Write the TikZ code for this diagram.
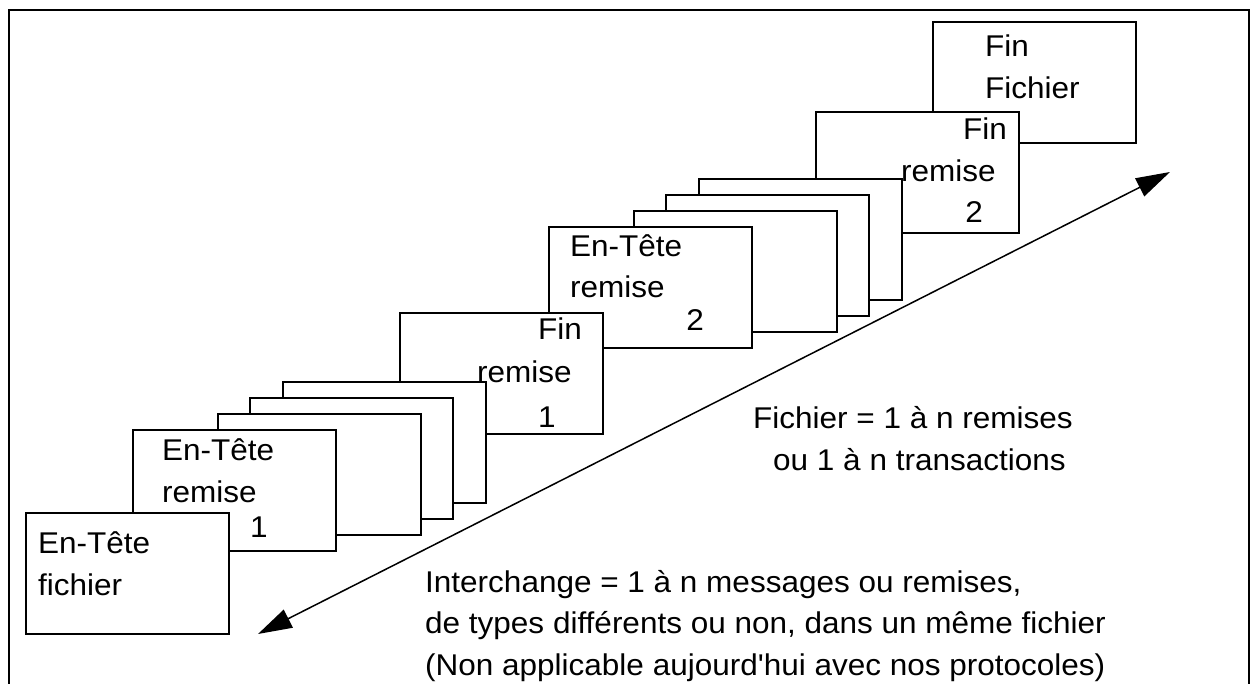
\documentclass[tikz,border=0pt]{standalone}
\usepackage{fontspec}
\setmainfont{Liberation Sans}[Ligatures=TeXOff, FakeStretch=1.05]
\usetikzlibrary{arrows.meta}

\tikzset{
	sheet/.style={draw=black, fill=white, line width=2pt, minimum width=203pt, minimum height=121pt, inner sep=0pt, anchor=north west},
	txt/.style={font=\fontsize{30}{40}\selectfont, inner sep=0pt},
}

\begin{document}
\begin{tikzpicture}[x=1pt, y=-1pt]
		\useasboundingbox (0,0) rectangle (1255,684);

		\draw[black, line width=1.5pt] (9,684) -- (9,10) -- (1249,10) -- (1249,684);

		% sheets, back to front
		\node[sheet] (finfichier) at (932,21) {};
		\node[sheet] (finremb) at (815,111) {};
		\node[sheet] (blankf) at (698,178) {};
		\node[sheet] (blanke) at (665,194) {};
		\node[sheet] (blankd) at (633,210) {};
		\node[sheet] (enteteb) at (548,226) {};
		\node[sheet] (finrema) at (399,312) {};
		\node[sheet] (blankc) at (282,381) {};
		\node[sheet] (blankb) at (249,397) {};
		\node[sheet] (blanka) at (217,413) {};
		\node[sheet] (entetea) at (132,429) {};
		\node[sheet] (entetefichier) at (25,512) {};

		% labels
		\node[txt, anchor=base west] (tfa) at (38,553) {En-Tête};
		\node[txt, anchor=base west] (tfb) at (38,595) {fichier};

		\node[txt, anchor=base west] (taa) at (162,460) {En-Tête};
		\node[txt, anchor=base west] (tab) at (162,502) {remise};
		\node[txt, anchor=base] (tac) at (259,537) {1};

		\node[txt, anchor=base east] (tra) at (582,340) {Fin};
		\node[txt, anchor=base west] (trb) at (477,382) {remise};
		\node[txt, anchor=base] (trc) at (547,427) {1};

		\node[txt, anchor=base west] (tba) at (570,257) {En-Tête};
		\node[txt, anchor=base west] (tbb) at (570,298) {remise};
		\node[txt, anchor=base] (tbc) at (695,331) {2};

		\node[txt, anchor=base east] (tsa) at (1007,140) {Fin};
		\node[txt, anchor=base west] (tsb) at (901,182) {remise};
		\node[txt, anchor=base] (tsc) at (974,223) {2};

		\node[txt, anchor=base west] (tza) at (985,57) {Fin};
		\node[txt, anchor=base west] (tzb) at (985,99) {Fichier};

		% double arrow
		\coordinate (lo) at (258,634);
		\coordinate (hi) at (1170,172);
		\draw[black, line width=1.5pt, {Triangle[length=34pt,width=20pt]}-{Triangle[length=34pt,width=20pt]}] (lo) -- (hi);

		\node[txt, anchor=base west] (fica) at (753,428) {Fichier = 1 à n remises};
		\node[txt, anchor=base west] (ficb) at (773,470) {ou 1 à n transactions};

		\node[txt, anchor=base west] (inta) at (425,592) {Interchange = 1 à n messages ou remises,};
		\node[txt, anchor=base west] (intb) at (425,633) {de types différents ou non, dans un même fichier};
		\node[txt, anchor=base west] (intc) at (425,675) {(Non applicable aujourd'hui avec nos protocoles)};
	\end{tikzpicture}
\end{document}
